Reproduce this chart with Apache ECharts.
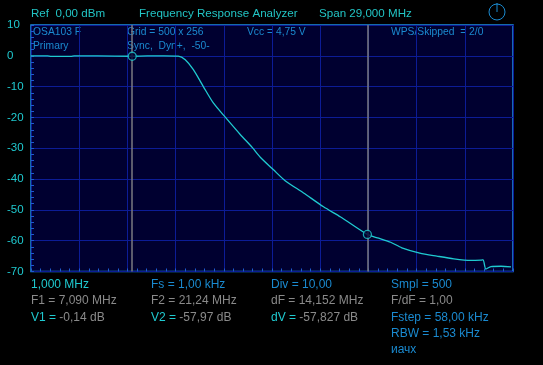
<!DOCTYPE html>
<html><head><meta charset="utf-8">
<script src="https://cdn.jsdelivr.net/npm/echarts@6/dist/echarts.min.js"></script>
<style>html,body{margin:0;padding:0;background:#000;}#c{width:543px;height:365px;}</style>
</head><body><div id="c"></div>
<script>
// Frequency (MHz) and response (dB)
var freqMHz = [1.0, 2.0, 2.2, 3.4, 3.6, 5.0, 7.09, 8.0, 9.0, 9.86, 10.28, 10.77, 11.37, 11.97, 12.70, 13.60, 14.32, 14.81, 15.59, 16.31, 17.40, 18.60, 19.63, 21.24, 21.92, 22.64, 23.31, 24.39, 25.42, 26.44, 27.47, 28.07, 28.20, 28.37, 28.67, 29.28, 29.88];
var respDB  = [0.0, 0.0, -0.2, -0.2, 0.0, 0.0, -0.14, 0.0, 0.0, -0.1, -1.3, -4.5, -10.0, -15.3, -20.0, -25.6, -29.8, -33.0, -37.0, -40.6, -44.5, -49.0, -52.3, -57.97, -59.2, -60.5, -62.3, -64.0, -65.0, -65.9, -66.4, -66.3, -66.2, -69.2, -68.4, -68.3, -68.5];
var markerF = [7.09, 21.24];
var markerV = [-0.14, -57.97];
var yTicks = [10, 0, -10, -20, -30, -40, -50, -60, -70];

var CY = '#1fcad0', BL = '#1a8ad0', GR = '#8a8a8a', HD = '#22c4c4';
var FONT = 'Liberation Sans';
var chart = echarts.init(document.getElementById('c'));
function f(px){return px+'px "'+FONT+'"';}
var rich = {c:{fill:CY, font:f(12)}, b:{fill:BL, font:f(12)}, g:{fill:GR, font:f(12)}, h:{fill:HD, font:f(11.6)}, s:{fill:BL, font:f(10.3)}};
function t(x, yc, text) {
  return {type:'text', x:x, y:yc, style:{text:text, rich:rich, verticalAlign:'middle', align:'left', font:f(12)}};
}
var tickStyle = {show:true, inside:false, length:3, lineStyle:{color:'#1e5ad0', width:1}};
var option = {
  backgroundColor:'#000000',
  animation:false,
  grid:{left:31, top:25, width:482, height:246.5, show:true, backgroundColor:'#000030', borderColor:'#1e8ee0', borderWidth:1.5},
  xAxis:[
    {type:'value', min:1, max:30, axisLine:{show:false}, axisTick:{show:false}, axisLabel:{show:false}, splitLine:{show:false}},
    {type:'value', min:0, max:10, interval:1, position:'bottom', axisLine:{show:false}, axisTick:{show:false},
     axisLabel:{show:false}, splitLine:{show:true, lineStyle:{color:'#0c1c96', width:1}}},
    {type:'value', min:0, max:50, interval:1, position:'bottom', offset:-3, axisLine:{show:false, onZero:false}, axisTick:tickStyle,
     axisLabel:{show:false}, splitLine:{show:false}}
  ],
  yAxis:[
    {type:'value', min:-70, max:10, interval:10, axisLine:{show:false}, axisTick:{show:false},
     axisLabel:{color:CY, fontFamily:FONT, fontSize:11.5, align:'left', margin:24},
     splitLine:{show:true, lineStyle:{color:'#0c1c96', width:1}}},
    {type:'value', min:0, max:40, interval:1, position:'left', offset:-3, axisLine:{show:false, onZero:false}, axisTick:tickStyle,
     axisLabel:{show:false}, splitLine:{show:false}}
  ],
  series:[
    {type:'line', xAxisIndex:0, yAxisIndex:0, data:freqMHz.map(function(f,i){return [f, respDB[i]];}), symbol:'none',
     smooth:0.25,
     lineStyle:{color:CY, width:1.3}, z:3,
     markLine:{silent:true, symbol:'none', label:{show:false}, lineStyle:{color:'#7a7a80', type:'solid', width:1.5},
       data:markerF.map(function(f){return {xAxis:f};})}},
    {type:'scatter', xAxisIndex:0, yAxisIndex:0, data:markerF.map(function(f,i){return [f, markerV[i]];}), symbol:'circle', symbolSize:8,
     itemStyle:{color:'#000030', borderColor:CY, borderWidth:1.3}, z:5}
  ],
  graphic:[
    t(31, 14, '{h|Ref  0,00 dBm}'),
    t(139, 14, '{h|Frequency Response Analyzer}'),
    t(319, 14, '{h|Span 29,000 MHz}'),
    {type:'circle', shape:{cx:497, cy:12, r:8}, style:{fill:'none', stroke:'#1a8ad0', lineWidth:1}},
    {type:'line', shape:{x1:497, y1:3, x2:497, y2:12}, style:{stroke:'#1a8ad0', lineWidth:1}},
    t(33, 32, '{s|OSA103 F}'),
    t(33, 46, '{s|Primary}'),
    t(127, 32, '{s|Grid = 500 x 256}'),
    t(127, 46, '{s|Sync,  Dyn+,  -50-}'),
    t(247, 32, '{s|Vcc = 4,75 V}'),
    t(391, 32, '{s|WPS/Skipped  = 2/0}'),
    t(31, 285, '{c|1,000 MHz}'),
    t(151, 285, '{b|Fs = 1,00 kHz}'),
    t(271, 285, '{b|Div = 10,00}'),
    t(391, 285, '{b|Smpl = 500}'),
    t(31, 301, '{g|F1 = 7,090 MHz}'),
    t(151, 301, '{g|F2 = 21,24 MHz}'),
    t(271, 301, '{g|dF = 14,152 MHz}'),
    t(391, 301, '{g|F/dF = 1,00}'),
    t(31, 317.5, '{c|V1 = }{g|-0,14 dB}'),
    t(151, 317.5, '{c|V2 = }{g|-57,97 dB}'),
    t(271, 317.5, '{c|dV = }{g|-57,827 dB}'),
    t(391, 317.5, '{b|Fstep = 58,00 kHz}'),
    t(391, 333.5, '{b|RBW = 1,53 kHz}'),
    t(391, 350, '{b|иачх}')
  ]
};
chart.setOption(option);
</script></body></html>
